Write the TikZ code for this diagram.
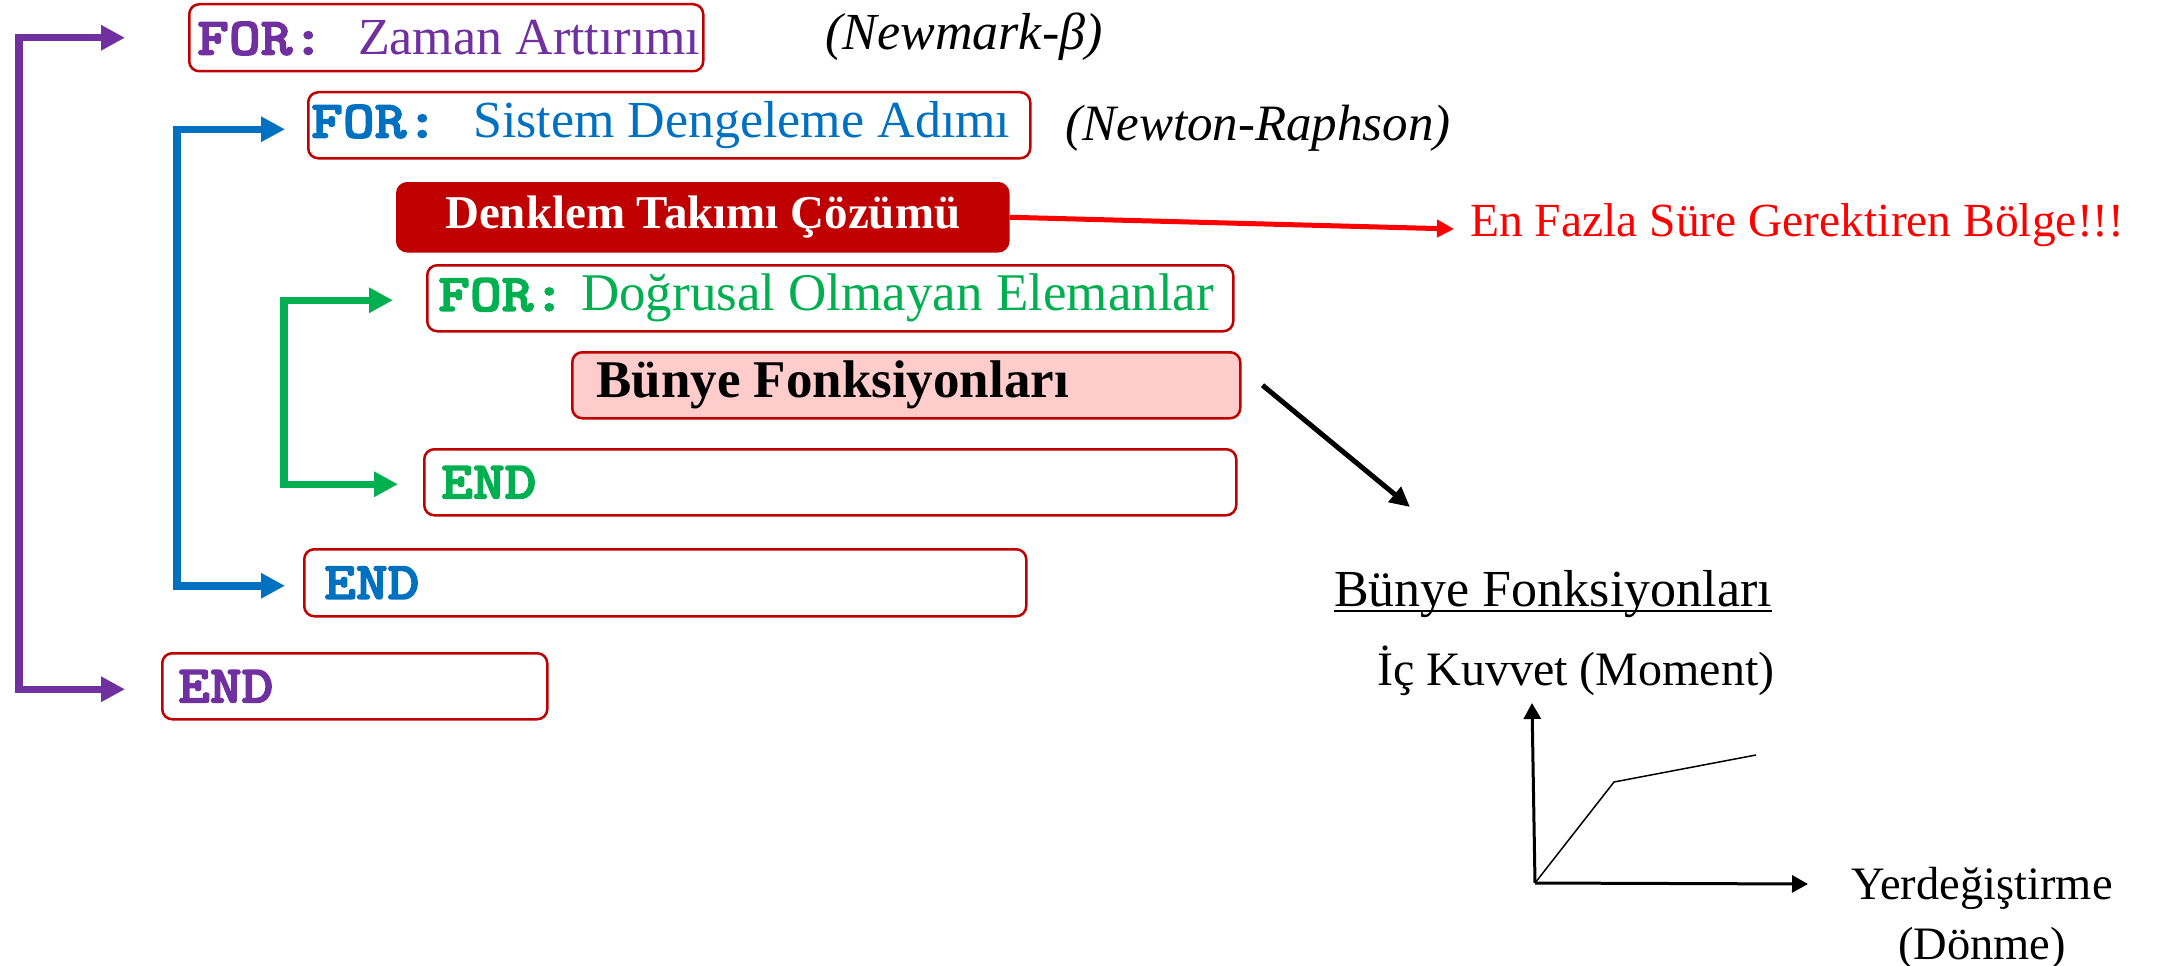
\documentclass[tikz,border=0pt]{standalone}
\usepackage{fontspec}
\setmainfont{Liberation Serif}
\newfontfamily\kwfont[FakeBold=2.5]{lmmonolt10-bold.otf}
\usetikzlibrary{arrows.meta}

\definecolor{dred}{HTML}{C00000}
\definecolor{purp}{HTML}{7030A0}
\definecolor{blu}{HTML}{0070C0}
\definecolor{grn}{HTML}{00B050}
\definecolor{pinkfill}{HTML}{FFCCCC}

% font size helper (sizes are in pt, the picture unit)
\newcommand{\fsz}[1]{\fontsize{#1pt}{#1pt}\selectfont}
% loop keyword in heavy slab-serif monospace, widened to typewriter proportions
\newcommand{\kw}[1]{\scalebox{1.14}[1]{\kwfont\fsz{53}#1}}

\begin{document}
\begin{tikzpicture}[x=1pt,y=-1pt,
  box/.style={draw=dred, line width=2.5pt, rounded corners=10pt, inner sep=0pt,
              anchor=north west, minimum height=66pt, fill=white},
  loopline/.style={line width=7.5pt,
              arrows={Triangle[length=24pt,width=24pt]-Triangle[length=24pt,width=24pt]}},
  hotarrow/.style={draw=red, line width=5pt, -{Triangle[length=17pt,width=17pt]}},
  linkarrow/.style={draw=black, line width=5pt, -{Triangle[length=20pt,width=19pt]}},
  axis/.style={draw=black, line width=3pt, -{Triangle[length=16pt,width=17pt]}},
  curve/.style={draw=black, line width=1.5pt},
  label/.style={inner sep=0pt}
]
\useasboundingbox (0,0) rectangle (2164,966);

% ---- loop boxes ----
\node[box, minimum height=67pt, text=purp, font=\fsz{52}] (b1) at (188,3)
  {\makebox[514pt][l]{\hspace{8pt}\kw{FOR:}\hspace{34pt}Zaman Arttırımı}};
\node[box, text=blu, font=\fsz{52}] (b2) at (307,91)
  {\makebox[722pt][l]{\hspace{3pt}\kw{FOR:}\hspace{35pt}Sistem Dengeleme Adımı}};
\node[box, minimum height=68pt, minimum width=611pt, fill=dred, text=white,
      font=\bfseries\fsz{47}] (dk) at (396,182) {Denklem Takımı Çözümü};
\node[box, text=grn, font=\fsz{53}] (f3) at (426,264)
  {\makebox[806pt][l]{\hspace{11pt}\kw{FOR:}\hspace{16pt}Doğrusal Olmayan Elemanlar}};
\node[box, fill=pinkfill, text=black, font=\bfseries\fsz{53}] (bf) at (571,351)
  {\makebox[668pt][l]{\hspace{24pt}Bünye Fonksiyonları}};
\node[box, text=grn] (e1) at (423,448) {\makebox[812pt][l]{\hspace{17pt}\kw{END}}};
\node[box, minimum height=67pt, text=blu] (e2) at (303,548) {\makebox[722pt][l]{\hspace{20pt}\kw{END}}};
\node[box, text=purp] (e3) at (161,652) {\makebox[385pt][l]{\hspace{16pt}\kw{END}}};

% ---- loop brackets ----
\coordinate (pv) at (19,0);
\coordinate (bv) at (177,0);
\coordinate (gv) at (284,0);
\draw[loopline, draw=purp]
  ([xshift=-63pt]b1.west) -- (pv |- b1.west) -- ([yshift=-3pt]pv |- e3.west)
  -- ([xshift=-36pt,yshift=-3pt]e3.west);
\draw[loopline, draw=blu]
  ([xshift=-22pt,yshift=-4pt]b2.west) -- ([yshift=-4pt]bv |- b2.west)
  -- ([yshift=-3pt]bv |- e2.west) -- ([xshift=-18pt,yshift=-3pt]e2.west);
\draw[loopline, draw=grn]
  ([xshift=-33pt,yshift=-2pt]f3.west) -- ([yshift=-2pt]gv |- f3.west)
  -- ([yshift=-2pt]gv |- e1.west) -- ([xshift=-25pt,yshift=-2pt]e1.west);

% ---- annotations ----
\node[label, font=\itshape\fsz{52}] (nm) at (964,37) {(Newmark-β)};
\node[label, font=\itshape\fsz{51}] (nr) at (1258,128) {(Newton-Raphson)};
\node[label, text=red, font=\fsz{47.5}, anchor=west] (note) at (1470,225)
  {En Fazla Süre Gerektiren Bölge!!!};
\coordinate (notetip) at (1454,229);
\draw[hotarrow] (dk.east) -- (notetip);

% ---- constitutive relation sketch ----
\coordinate (linktip) at (1410,507);
\draw[linkarrow] ([xshift=21pt]bf.east) -- (linktip);

\node[label, font=\fsz{52}, anchor=base west] (ttl) at (1334,606) {Bünye Fonksiyonları};
\draw[line width=2.5pt] ([yshift=-5pt]ttl.base west) -- ([yshift=-5pt]ttl.base east);
\node[label, font=\fsz{48}, anchor=base west] (yl) at (1377,685) {İç Kuvvet (Moment)};
\node[label, align=center, font={\fontsize{46.5pt}{60pt}\selectfont}] (xl) at (1982,918)
  {Yerdeğiştirme\\(Dönme)};

\coordinate (O) at (1535,883);
\coordinate (ytip) at (1532,703);
\coordinate (xtip) at (1808,884);
\coordinate (yieldpt) at (1614,782);
\coordinate (endpt) at (1756,755);
\draw[axis] (O) -- (ytip);
\draw[axis] (O) -- (xtip);
\draw[curve] (O) -- (yieldpt) -- (endpt);
\end{tikzpicture}
\end{document}
